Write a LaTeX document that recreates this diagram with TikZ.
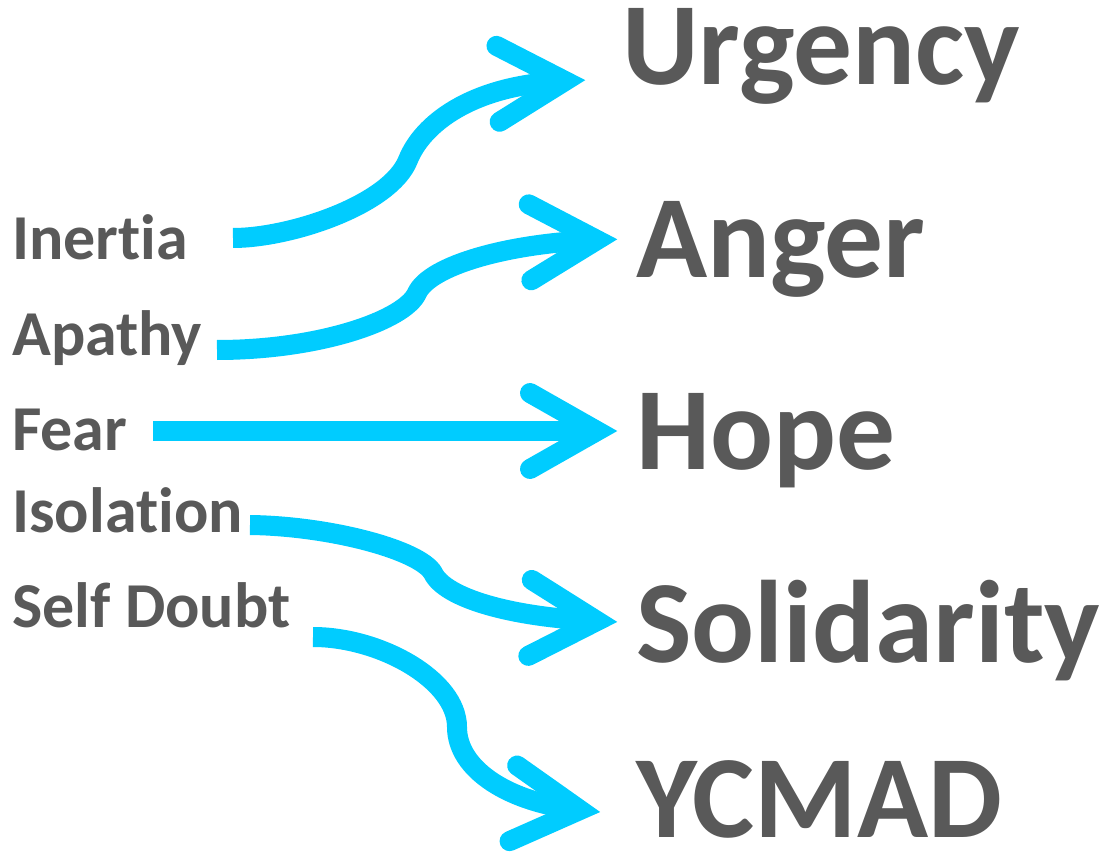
\documentclass[tikz,border=0pt]{standalone}
\usepackage{fontspec}
\setmainfont{Carlito}[Ligatures=NoCommon]
\usetikzlibrary{decorations.markings}
\definecolor{txtgray}{HTML}{595959}
\definecolor{flowcyan}{HTML}{00CCFF}
\begin{document}
\begin{tikzpicture}[
    x=0.75pt, y=-0.75pt,
    feel/.style={anchor=base west, inner sep=0pt, text=txtgray, font=\fontsize{48}{52}\selectfont\bfseries},
    goal/.style={anchor=base west, inner sep=0pt, text=txtgray, font=\fontsize{88}{92}\selectfont\bfseries},
    chevron/.style={draw=flowcyan, line width=15pt, line cap=round, line join=miter},
    arrow/.style={draw=flowcyan, line width=15pt,
        postaction={decorate, decoration={markings,
            mark=at position 1 with {\draw[chevron] (-67,-38) -- (0,0) -- (-67,38);}}}}
]
\useasboundingbox (0,0) rectangle (1103,859);

% Left column
\node[feel] (inertia)   at (12,260) {Inertia};
\node[feel] (apathy)    at (12,355) {Apathy};
\node[feel] (fear)      at (12,450) {Fear};
\node[feel] (isolation) at (12,532) {Isolation};
\node[feel] (doubt)     at (12,627) {Self Doubt};

% Right column
\node[goal] (urgency)    at (622,85)  {Urgency};
\node[goal] (anger)      at (636,277) {Anger};
\node[goal] (hope)       at (636,469) {Hope};
\node[goal] (solidarity) at (636,662) {Solidarity};
\node[goal] (ycmad)      at (636,837) {YCMAD};

% Arrow ends
\coordinate (s1) at (233,238); \coordinate (t1) at (565,81);
\coordinate (s2) at (217,350); \coordinate (t2) at (597,240);
\coordinate (s3) at (153,431); \coordinate (t3) at (597,431);
\coordinate (s4) at (250,525); \coordinate (t4) at (597,621);
\coordinate (s5) at (313,637); \coordinate (t5) at (580,810);

% Flows
\draw[arrow] (s1) .. controls (290,238) and (390,205) .. (408,160)
                  .. controls (422,125) and (470,85) .. (t1);
\draw[arrow] (s2) .. controls (320,350) and (405,320) .. (417,293)
                  .. controls (430,265) and (510,243) .. (t2);
\draw[arrow] (s3) -- (t3);
\draw[arrow] (s4) .. controls (330,526) and (420,550) .. (433,573)
                  .. controls (445,598) and (510,617) .. (t4);
\draw[arrow] (s5) .. controls (380,637) and (457,680) .. (457,727)
                  .. controls (457,770) and (510,803) .. (t5);

\end{tikzpicture}
\end{document}
